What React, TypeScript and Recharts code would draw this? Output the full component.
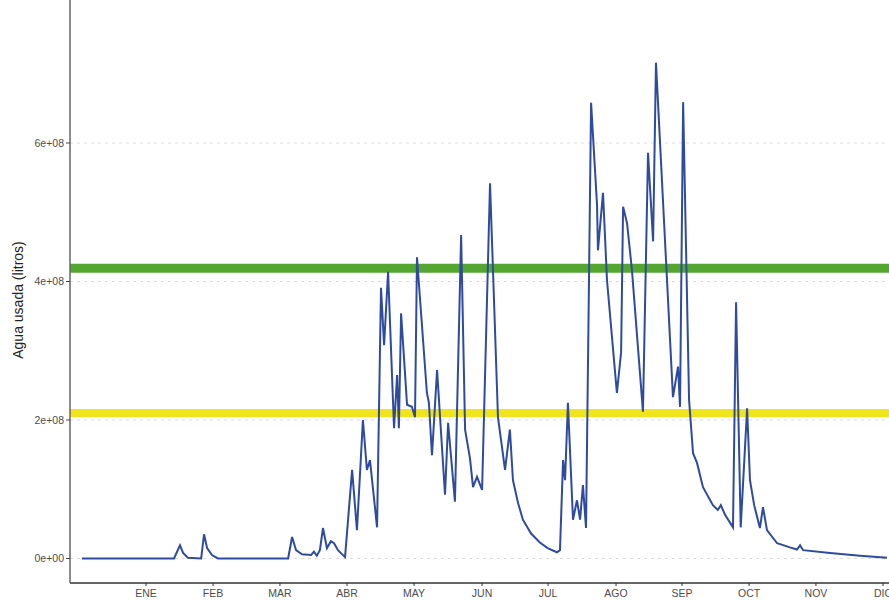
import {
  LineChart,
  Line,
  XAxis,
  YAxis,
  CartesianGrid,
  ReferenceLine,
} from "recharts";

// dia del año (0 = 1 de enero) y agua usada en litros
const days = [
  1, 42.7, 45.4, 46.8, 49, 55, 56.3, 57.7, 59.9, 62.6, 94.4, 96.2, 98, 100.7,
  104.8, 106.1, 107.4, 108.8, 110.2, 112, 113.8, 115.2, 117, 120.2, 123.4,
  125.6, 128.3, 130.1, 131.5, 134.7, 136.5, 137.9, 139.7, 142.4, 143.8, 144.6,
  145.6, 148.3, 150.5, 151.9, 152.8, 157.3, 158.2, 159.6, 161.9, 165.5, 166.9,
  170, 172.8, 174.6, 176.8, 178.2, 180, 182.3, 185.9, 189.5, 192.7, 194.9,
  196.3, 198.6, 200.8, 204.5, 208.5, 212, 216.2, 217.6, 219, 219.9, 221.2,
  223.5, 225.3, 226.7, 228, 229.4, 231.7, 234.4, 234.8, 237.1, 238.9, 243.4,
  245.3, 246.2, 248, 250.2, 255.2, 257.5, 259.8, 261.1, 268.8, 271.1, 272,
  273.4, 276.1, 277.9, 279.7, 282.4, 286.9, 289.1, 290.5, 292.4, 296, 297.4,
  299.5, 302.4, 303.7, 305.6, 308.2, 309.6, 311.4, 316, 321.8, 325, 326.4,
  327.8, 340, 353.6, 365.8,
];

const litros = [
  0, 0, 1.9e7, 0.8e7, 0.1e7, 0, 3.5e7, 1.5e7, 0.5e7, 0, 0, 3.1e7, 1.2e7,
  0.6e7, 0.5e7, 1.0e7, 0.4e7, 1.2e7, 4.4e7, 1.5e7, 2.5e7, 2.2e7, 1.2e7, 0.2e7,
  1.28e8, 0.41e8, 2.0e8, 1.28e8, 1.42e8, 0.45e8, 3.91e8, 3.08e8, 4.14e8,
  1.88e8, 2.65e8, 1.88e8, 3.54e8, 2.22e8, 2.19e8, 2.04e8, 4.35e8, 2.39e8,
  2.25e8, 1.49e8, 2.72e8, 0.92e8, 1.96e8, 0.82e8, 4.67e8, 1.86e8, 1.45e8,
  1.03e8, 1.18e8, 0.99e8, 5.42e8, 2.04e8, 1.28e8, 1.86e8, 1.13e8, 0.8e8,
  0.56e8, 0.36e8, 0.23e8, 0.15e8, 0.09e8, 0.12e8, 1.42e8, 1.13e8, 2.25e8,
  0.56e8, 0.84e8, 0.56e8, 1.06e8, 0.44e8, 6.58e8, 5.1e8, 4.45e8, 5.28e8,
  4.02e8, 2.39e8, 2.98e8, 5.08e8, 4.84e8, 4.17e8, 2.12e8, 5.86e8, 4.58e8,
  7.16e8, 2.33e8, 2.77e8, 2.19e8, 6.59e8, 2.29e8, 1.52e8, 1.38e8, 1.03e8,
  0.77e8, 0.7e8, 0.77e8, 0.63e8, 0.45e8, 3.7e8, 0.45e8, 2.17e8, 1.13e8,
  0.77e8, 0.44e8, 0.74e8, 0.41e8, 0.22e8, 0.16e8, 0.13e8, 0.19e8, 0.12e8,
  0.08e8, 0.04e8, 0.01e8,
];

const months = ["ENE", "FEB", "MAR", "ABR", "MAY", "JUN", "JUL", "AGO", "SEP", "OCT", "NOV", "DIC"];
const monthTicks = [30, 60.4, 90.7, 121.1, 151.5, 182.3, 212.2, 243, 272.9, 303.3, 333.6, 364];
const yTicks = [0, 2e8, 4e8, 6e8];

const limiteAlto = 4.19e8;
const limiteBajo = 2.1e8;

const data = days.map((d, i) => ({ day: d, litros: litros[i] }));

const sci = (v: number) => {
  if (v === 0) return "0e+00";
  const [m, e] = v.toExponential(0).split("e");
  return `${m}e${e[0]}${e.slice(1).padStart(2, "0")}`;
};

const monthLabel = (v: number) => months[monthTicks.indexOf(v)] ?? "";

const tickStyle = { fontSize: 10.5, fill: "#4d4d4d", fontFamily: "Liberation Sans, Arial, sans-serif" };

export default function App() {
  return (
    <div style={{ position: "absolute", left: 0, top: 0, background: "#fff" }}>
      <LineChart
        width={889}
        height={601}
        data={data}
        margin={{ top: 0, right: 0, bottom: 0, left: 0 }}
      >
        <CartesianGrid
          vertical={false}
          strokeDasharray="3 4"
          stroke="#dcdcdc"
          horizontalValues={yTicks}
        />
        <XAxis
          dataKey="day"
          type="number"
          domain={[-4.44, 366.7]}
          allowDataOverflow
          ticks={monthTicks}
          tickFormatter={monthLabel}
          interval={0}
          height={18}
          tick={tickStyle}
          tickSize={3}
          tickMargin={4}
          stroke="#333"
          axisLine={{ stroke: "#333", strokeWidth: 1.3 }}
        />
        <YAxis
          type="number"
          domain={[-0.354e8, 8.065e8]}
          allowDataOverflow
          ticks={yTicks}
          tickFormatter={sci}
          width={70}
          tick={tickStyle}
          tickSize={4}
          tickMargin={2}
          stroke="#444"
          axisLine={{ stroke: "#666", strokeWidth: 1.5 }}
          label={{
            content: () => (
              <text
                x={18}
                y={300}
                transform="rotate(-90, 18, 300)"
                textAnchor="middle"
                dominantBaseline="central"
                fontSize={14}
                fill="#222"
                fontFamily="Liberation Sans, Arial, sans-serif"
              >
                Agua usada (litros)
              </text>
            ),
          }}
        />
        <ReferenceLine y={limiteAlto} stroke="#55a630" strokeWidth={9} />
        <ReferenceLine y={limiteBajo} stroke="#f0e41c" strokeWidth={8} />
        <Line
          type="linear"
          dataKey="litros"
          stroke="#2e4b9f"
          strokeWidth={2}
          dot={false}
          isAnimationActive={false}
        />
      </LineChart>
    </div>
  );
}
